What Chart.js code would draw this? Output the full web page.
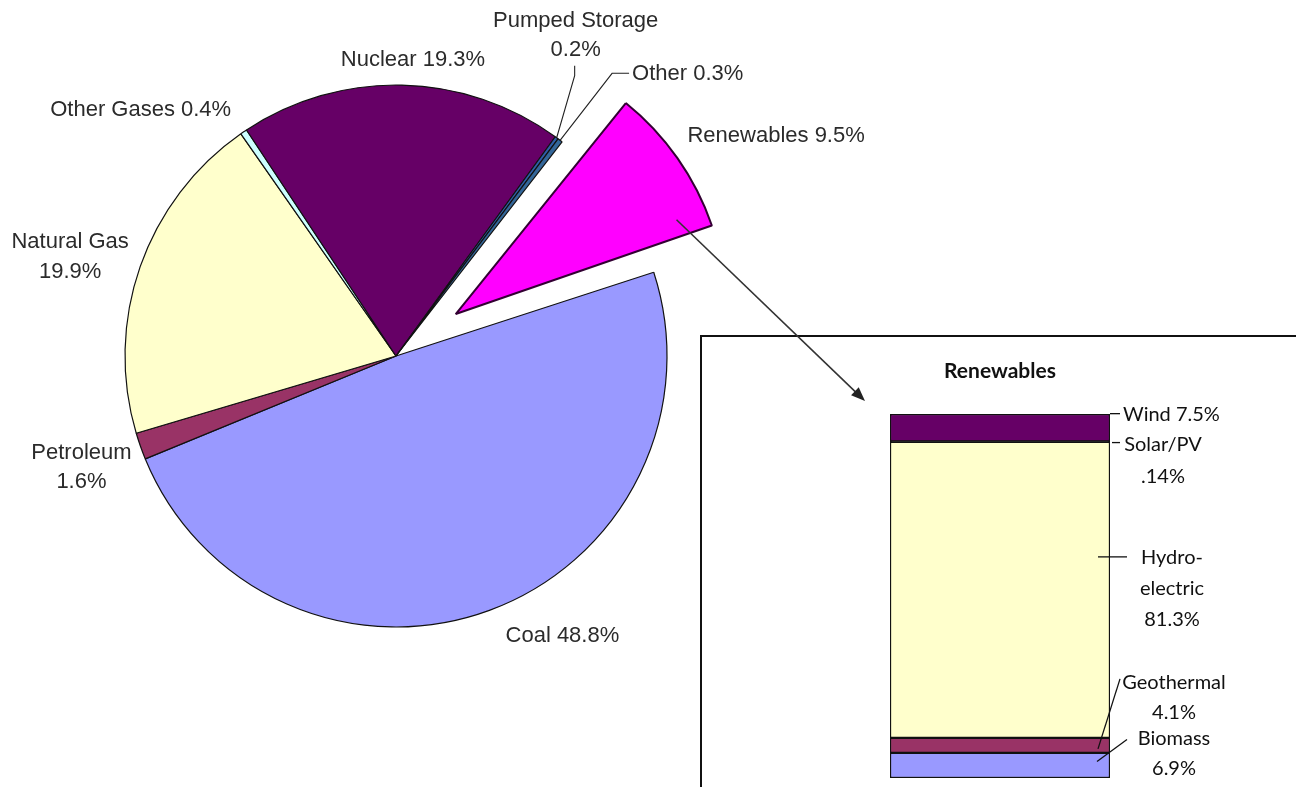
<!DOCTYPE html>
<html lang="en">
<head>
<meta charset="UTF-8">
<title>Electricity Generation by Source</title>
<script src="https://cdn.jsdelivr.net/npm/chart.js"></script>
<style>
    body {
        margin: 0;
        width: 1296px;
        height: 787px;
        overflow: hidden;
        position: relative;
        background: #fff;
    }
    #box {
        position: absolute;
        left: 700px;
        top: 335px;
        width: 700px;
        height: 600px;
        border: 2px solid #111;
        background: #fff;
    }
    #barChart { position: absolute; left: 704px; top: 338px; }
    #pieChart { position: absolute; left: 0; top: 0; pointer-events: none; }
</style>
</head>
<body>
<div id="box"></div>
<canvas id="barChart" width="592" height="449"></canvas>
<canvas id="pieChart" width="1296" height="787"></canvas>

<script>
// share of generation by source (%)
const sources = ["Coal", "Petroleum", "Natural Gas", "Other Gases", "Nuclear", "Pumped Storage", "Other", "Renewables"];
const shares = [48.8, 1.6, 19.9, 0.4, 19.3, 0.2, 0.3, 9.5];
const sourceColors = ["#9999FF", "#993366", "#FFFFCC", "#CCFFFF", "#660066", "#2E5EA8", "#336699", "#FF00FF"];
// sources whose value goes on a second line
const twoLine = ["Petroleum", "Natural Gas", "Pumped Storage"];

// renewables breakdown (%), listed bottom to top of the stack
const renewNames = ["Biomass", "Geothermal", "Hydroelectric", "Solar/PV", "Wind"];
const renewShares = [6.9, 4.1, 81.3, 0.14, 7.5];
const renewColors = ["#9999FF", "#993366", "#FFFFCC", "#1a1a1a", "#660066"];
const renewLines = [["Biomass"], ["Geothermal"], ["Hydro-", "electric"], ["Solar/PV"], []];

// pie geometry
const PIE_RADIUS = 271;
const EXPLODE = 73;           // how far the renewables slice is pulled out
const explodeIndex = sources.indexOf("Renewables");

// label placement relative to the outer edge of each slice
const pieLabelPlace = [
    { dx: 73, dy: 26 },
    { dx: -59, dy: 7, gap: 29 },
    { dx: -70, dy: -25, gap: 30 },
    { dx: -103, dy: -22 },
    { dx: 11, dy: -25 },
    { dx: 19, dy: -117, gap: 29, leader: [[-1, 55], [-1, 45]] },
    { dx: 72, dy: -66, align: "left", leader: [[-20, -1], [-3, -1]] },
    { dx: 10, dy: -22, align: "left" }
];

// label placement relative to the bar's right edge and segment middle
const barLabelPlace = [
    { dx: 64, dy: -27, gap: 30, leader: [[-13, -4], [17, -26]] },
    { dx: 64, dy: -62.5, gap: 30, leader: [[-12, 3.5], [10, -66.5]] },
    { dx: 62, dy: -32.5, gap: 31, leader: [[-12, -33], [17, -33]] },
    { dx: 53, dy: 3, gap: 32, leader: [[2, 1], [10, 1]] },
    { dx: 13, dy: -13, align: "left", leader: [[0, -14], [10, -14]] }
];

const pctText = v => String(v).replace(/^0\./, ".") + "%";

// arc offset in Chart.js v4 moves the slice by offset/4 and grows it by offset/4 * fix
const explodeAdjust = {
    id: "explodeAdjust",
    afterUpdate(chart) {
        const arc = chart.getDatasetMeta(0).data[explodeIndex];
        const fix = 1 - Math.sin(Math.min(Math.PI, arc.circumference));
        arc.outerRadius -= EXPLODE * fix;
    }
};

const pieLabels = {
    id: "pieLabels",
    afterDatasetsDraw(chart) {
        const ctx = chart.ctx;
        const arcs = chart.getDatasetMeta(0).data;
        ctx.save();
        ctx.font = '22px "Liberation Sans", Arial, sans-serif';
        ctx.fillStyle = "#2b2b2b";
        ctx.strokeStyle = "#222";
        ctx.lineWidth = 1.1;
        ctx.textBaseline = "middle";

        arcs.forEach((arc, i) => {
            const { x, y, startAngle, endAngle } = arc.getProps(["x", "y", "startAngle", "endAngle"], true);
            const mid = (startAngle + endAngle) / 2;
            const shift = i === explodeIndex ? EXPLODE : 0;
            const ex = x + Math.cos(mid) * (PIE_RADIUS + shift);
            const ey = y + Math.sin(mid) * (PIE_RADIUS + shift);
            const p = pieLabelPlace[i];
            const lx = ex + p.dx, ly = ey + p.dy;

            const name = sources[i];
            const lines = twoLine.includes(name)
                ? [name, shares[i] + "%"]
                : [name + " " + shares[i] + "%"];
            ctx.textAlign = p.align || "center";
            lines.forEach((t, k) => ctx.fillText(t, lx, ly + k * (p.gap || 0)));

            if (p.leader) {
                ctx.beginPath();
                ctx.moveTo(ex, ey);
                p.leader.forEach(([dx, dy]) => ctx.lineTo(lx + dx, ly + dy));
                ctx.stroke();
            }
        });

        // arrow from the renewables slice down into the breakdown box
        const arc = arcs[explodeIndex];
        const a0 = arc.startAngle, a1 = arc.endAngle;
        const amid = (a0 + a1) / 2;
        const cx = arc.x + Math.cos(amid) * EXPLODE;
        const cy = arc.y + Math.sin(amid) * EXPLODE;
        const a = a0 + 0.85 * (a1 - a0);
        const sx = cx + Math.cos(a) * PIE_RADIUS * 0.886;
        const sy = cy + Math.sin(a) * PIE_RADIUS * 0.886;
        const tx = 865, ty = 401;
        const ang = Math.atan2(ty - sy, tx - sx);
        ctx.strokeStyle = "#333";
        ctx.fillStyle = "#222";
        ctx.lineWidth = 1.6;
        ctx.beginPath();
        ctx.moveTo(sx, sy);
        ctx.lineTo(tx - Math.cos(ang) * 10, ty - Math.sin(ang) * 10);
        ctx.stroke();
        ctx.beginPath();
        ctx.moveTo(tx, ty);
        ctx.lineTo(tx - Math.cos(ang) * 14 + Math.sin(ang) * 5.5, ty - Math.sin(ang) * 14 - Math.cos(ang) * 5.5);
        ctx.lineTo(tx - Math.cos(ang) * 14 - Math.sin(ang) * 5.5, ty - Math.sin(ang) * 14 + Math.cos(ang) * 5.5);
        ctx.closePath();
        ctx.fill();
        ctx.restore();
    }
};

new Chart(document.getElementById("pieChart"), {
    type: "pie",
    data: {
        labels: sources,
        datasets: [{
            data: shares,
            backgroundColor: sourceColors,
            borderColor: sources.map((s, i) => i === explodeIndex ? "#330033" : "#111"),
            borderWidth: sources.map((s, i) => i === explodeIndex ? 2 : 1.2),
            offset: sources.map((s, i) => i === explodeIndex ? EXPLODE * 4 : 0)
        }]
    },
    options: {
        responsive: false,
        animation: false,
        rotation: 72,
        radius: PIE_RADIUS,
        layout: { padding: { left: 0, top: 0, right: 504, bottom: 75 } },
        plugins: {
            legend: { display: false },
            tooltip: { enabled: false }
        }
    },
    plugins: [explodeAdjust, pieLabels]
});

const barLabels = {
    id: "barLabels",
    afterDatasetsDraw(chart) {
        const ctx = chart.ctx;
        const area = chart.chartArea;
        ctx.save();
        ctx.fillStyle = "#111";
        ctx.strokeStyle = "#111";
        ctx.lineWidth = 1.3;
        ctx.textBaseline = "middle";

        ctx.font = "bold 21px Lato, sans-serif";
        ctx.textAlign = "center";
        ctx.fillText("Renewables", (area.left + area.right) / 2, area.top - 43);

        ctx.font = "20px Lato, sans-serif";
        chart.data.datasets.forEach((ds, i) => {
            const bar = chart.getDatasetMeta(i).data[0];
            const { x, y, base, width } = bar.getProps(["x", "y", "base", "width"], true);
            const right = x + width / 2;
            const mid = (y + base) / 2;
            const p = barLabelPlace[i];
            const lx = right + p.dx, ly = mid + p.dy;

            const lines = renewLines[i].length
                ? [...renewLines[i], pctText(renewShares[i])]
                : [renewNames[i] + " " + pctText(renewShares[i])];
            ctx.textAlign = p.align || "center";
            lines.forEach((t, k) => ctx.fillText(t, lx, ly + k * (p.gap || 0)));

            const [[x0, y0], [x1, y1]] = p.leader;
            ctx.beginPath();
            ctx.moveTo(right + x0, mid + y0);
            ctx.lineTo(right + x1, mid + y1);
            ctx.stroke();
        });
        ctx.restore();
    }
};

new Chart(document.getElementById("barChart"), {
    type: "bar",
    data: {
        labels: ["Renewables"],
        datasets: renewNames.map((name, i) => ({
            label: name,
            data: [renewShares[i]],
            backgroundColor: renewColors[i],
            borderColor: "#111",
            borderWidth: 1.5,
            borderSkipped: false,
            barPercentage: 1,
            categoryPercentage: 1
        }))
    },
    options: {
        responsive: false,
        animation: false,
        layout: { padding: { left: 186, right: 186, top: 76, bottom: 9 } },
        scales: {
            x: { stacked: true, display: false },
            y: {
                stacked: true,
                display: false,
                min: 0,
                max: renewShares.reduce((a, b) => a + b, 0)
            }
        },
        plugins: {
            legend: { display: false },
            tooltip: { enabled: false }
        }
    },
    plugins: [barLabels]
});
</script>
</body>
</html>
